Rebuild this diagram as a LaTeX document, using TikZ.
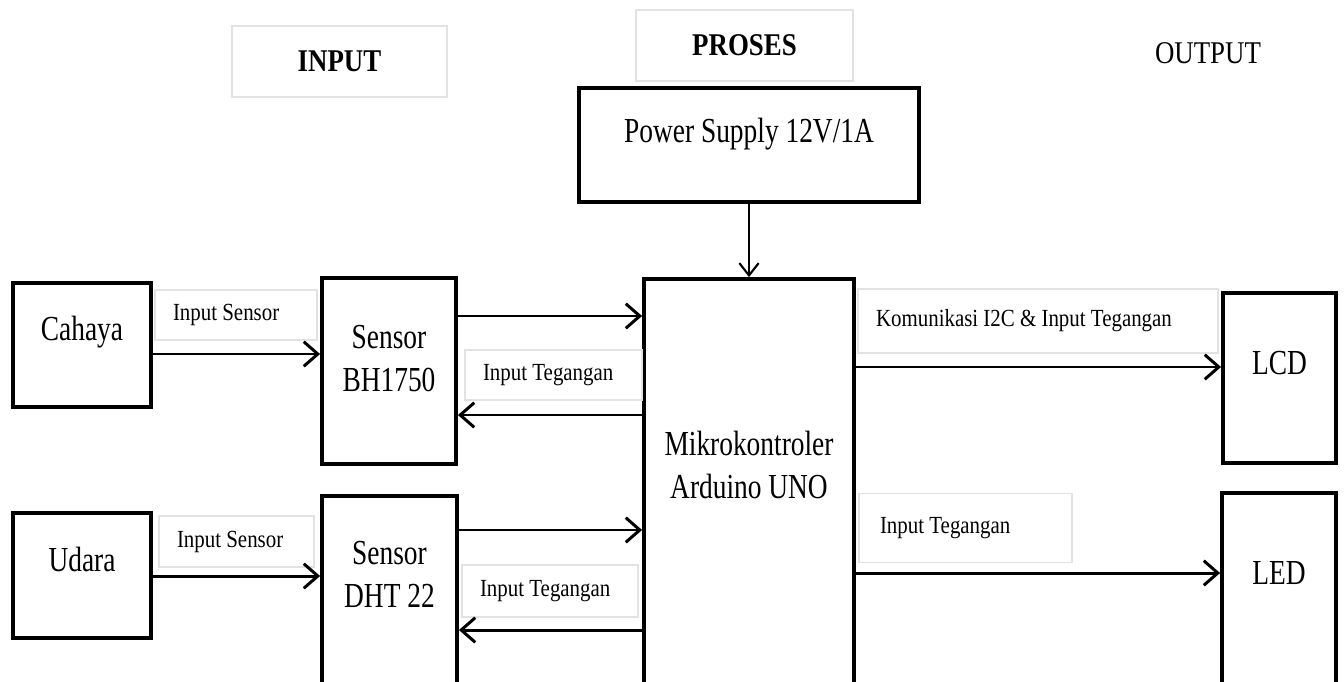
\documentclass[tikz,border=0pt]{standalone}
\usepackage{fontspec}
\setmainfont{Liberation Serif}
\newfontfamily\blkfont{Liberation Serif}[FakeStretch=0.78]
\newfontfamily\tagfont{Liberation Serif}[FakeStretch=0.85]
\newfontfamily\hdfont{Liberation Serif}[FakeStretch=0.85]
\usetikzlibrary{arrows.meta, positioning}
\definecolor{tagline}{RGB}{226,226,226}

\begin{document}
\begin{tikzpicture}[
    x=0.02cm, y=-0.02cm,
    blk/.style 2 args={draw, line width=2.2pt, minimum width=#1, minimum height=#2, inner sep=0pt},
    blktxt/.style={font=\blkfont\fontsize{20}{24.5}\selectfont, align=center, inner sep=0pt},
    tag/.style 2 args={draw=tagline, line width=0.7pt, minimum width=#1, minimum height=#2, inner sep=0pt, align=flush left, font=\tagfont\fontsize{14}{17}\selectfont},
    head/.style={font=\hdfont\bfseries\fontsize{18}{22}\selectfont},
    arr/.style={line width=1.7pt, -{Straight Barb[length=8pt, width=14pt]}}
  ]
    \useasboundingbox (0,0) rectangle (1344,682);
    \clip (0,0) rectangle (1344,682);

    % Column headers
    \node[tag={4.3cm}{1.42cm}, head, align=center]  (hinput)  at (339.5,61.5) {INPUT};
    \node[tag={4.34cm}{1.42cm}, head, align=center] (hproses) at (744.5,45.5) {PROSES};
    \node[head, font=\hdfont\fontsize{18}{22}\selectfont] (houtput) at (1208,53) {OUTPUT};

    % Blocks
    \node[blk={6.8cm}{2.28cm}]  (power)  at (749,145)     {};
    \node[blk={2.76cm}{2.48cm}] (cahaya) at (82,345)      {};
    \node[blk={2.68cm}{3.72cm}] (bh)     at (389,371)     {};
    \node[blk={2.76cm}{2.5cm}]  (udara)  at (82,575.5)    {};
    \node[blk={2.7cm}{5.28cm}]  (dht)    at (389.5,628)   {};
    \node[blk={4.2cm}{9.62cm}]  (mikro)  at (749,519.5)   {};
    \node[blk={2.26cm}{3.4cm}]  (lcd)    at (1279.5,378)  {};
    \node[blk={2.28cm}{5.34cm}] (led)    at (1279,626.5)  {};

    % Block texts
    \node[blktxt] (tpower)  at (749,134)    {Power Supply 12V/1A};
    \node[blktxt] (tcahaya) at (82,332)     {Cahaya};
    \node[blktxt] (tbh)     at (389,358.5)  {Sensor\\BH1750};
    \node[blktxt] (tudara)  at (82,559)     {Udara};
    \node[blktxt] (tdht)    at (389.5,574)  {Sensor\\DHT 22};
    \node[blktxt] (tmikro)  at (749,464.5)  {Mikrokontroler\\Arduino UNO};
    \node[blktxt] (tlcd)    at (1279.5,363) {LCD};
    \node[blktxt] (tled)    at (1279,573)   {LED};

    % Connector labels
    \node[tag={3.24cm}{1cm}, text width=2.52cm]    (lsens1) at (236,315)     {Input Sensor};
    \node[tag={3.54cm}{1cm}, text width=2.82cm]    (lteg1)  at (553.5,375)   {Input Tegangan};
    \node[tag={3.1cm}{1.02cm}, text width=2.38cm]  (lsens2) at (236.5,541.5) {Input Sensor};
    \node[tag={3.52cm}{1.04cm}, text width=2.8cm]  (lteg2)  at (550,591)     {Input Tegangan};
    \node[tag={7.2cm}{1.28cm}, text width=6.48cm]  (llcd)   at (1038,321)    {Komunikasi I2C \& Input Tegangan};
    \node[tag={4.26cm}{1.38cm}, text width=3.42cm] (lled)   at (965.5,528)   {Input Tegangan};

    % Connectors
    \draw[line width=1.2pt, -{Straight Barb[length=7pt, width=11pt]}] (power) -- (mikro);
    \draw[arr] (cahaya.east |- 0,354) -- (bh.west |- 0,354);
    \draw[arr] (bh.east |- 0,316) -- (mikro.west |- 0,316);
    \draw[arr] (mikro.west |- 0,415) -- (bh.east |- 0,415);
    \draw[arr] (udara.east |- 0,576) -- (dht.west |- 0,576);
    \draw[arr] (dht.east |- 0,530) -- (mikro.west |- 0,530);
    \draw[arr] (mikro.west |- 0,630) -- (dht.east |- 0,630);
    \draw[arr] (mikro.east |- 0,367) -- (lcd.west |- 0,367);
    \draw[arr] (mikro.east |- 0,573) -- (led.west |- 0,573);
\end{tikzpicture}
\end{document}
